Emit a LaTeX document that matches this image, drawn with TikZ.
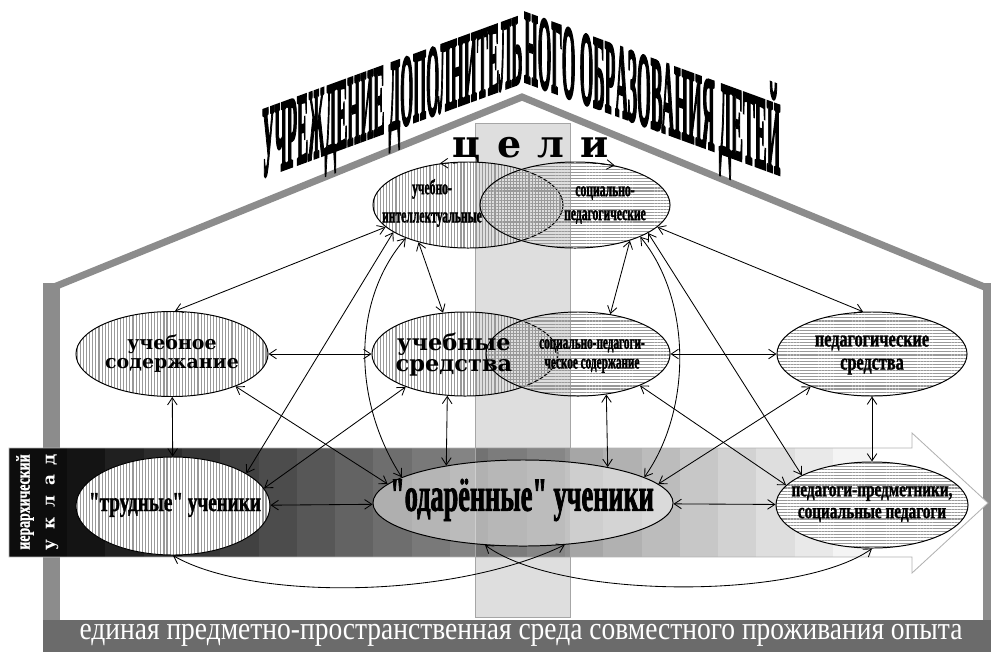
\documentclass[tikz,border=0pt]{standalone}
\usepackage{fontspec}
\setmainfont{Liberation Serif}
\newfontfamily\titlefont[FakeBold=4]{Liberation Serif Bold}
\newfontfamily\condfont[FakeStretch=0.55, FakeBold=1.5]{Liberation Serif Bold}
\newfontfamily\semicondfont[FakeStretch=0.7, FakeBold=1.2]{Liberation Serif Bold}
\newfontfamily\bandfont[FakeStretch=0.85]{Liberation Serif}
\newfontfamily\widefont{DejaVu Serif}
\usetikzlibrary{calc,positioning,arrows.meta,shapes.geometric,patterns.meta}

\definecolor{housegray}{gray}{0.55}
\definecolor{floorgray}{gray}{0.42}
\definecolor{stripegray}{gray}{0.6}

\tikzset{
    ellipsebox/.style={draw, ellipse, line width=0.7pt, inner sep=0},
    vstripes/.style={pattern={Lines[angle=90,distance=2.2pt,line width=0.8pt]}, pattern color=stripegray},
    hstripes/.style={pattern={Lines[angle=0,distance=2.2pt,line width=0.8pt]}, pattern color=stripegray},
    link/.style={<->, >={Straight Barb[length=1.8mm,width=2.4mm]}, line width=0.6pt},
    goal link/.style={->, >={Straight Barb[length=1.8mm,width=2.4mm]}, line width=0.6pt, dashed}
}

\begin{document}
\begin{tikzpicture}[x=0.025cm, y=-0.025cm, align=center, inner sep=0]
    \useasboundingbox (0,0) rectangle (991,652);

    % house
    \fill[housegray] (43,283) rectangle (60,622);
    \fill[housegray] (983,283) rectangle (991,622);
    \draw[housegray, line width=5pt] (51.5,288) -- (522,97) -- (987,288);
    \fill[floorgray] (43,620) rectangle (991,652);
    \node[text=white, font=\bandfont\fontsize{23}{23}\selectfont] (floor label) at (521,635) {единая предметно-пространственная среда совместного проживания опыта};

    % title
    \begin{scope}[shift={(262,177)}, yslant=0.365]
        \node[anchor=south west, transform shape] (title left) at (0,0) {\resizebox{6.5cm}{1.65cm}{\titlefont\raisebox{0pt}[0.66em][0pt]{УЧРЕЖДЕНИЕ ДОПОЛНИТЕЛЬ}}};
    \end{scope}
    \begin{scope}[shift={(524,81)}, yslant=-0.365]
        \node[anchor=south west, transform shape] (title mid) at (0,0) {\resizebox{2.275cm}{1.7cm}{\titlefont\raisebox{0pt}[0.66em][0pt]{НОГО ОБР}}};
    \end{scope}
    \begin{scope}[shift={(615,114.2)}, yslant=-0.365]
        \node[anchor=south west, transform shape] (title right) at (0,0) {\resizebox{4.125cm}{1.7cm}{\titlefont\raisebox{0pt}[0.66em][0pt]{АЗОВАНИЯ ДЕТЕЙ}}};
    \end{scope}

    % band with arrow head
    \fill[white] (9,448) -- (912,448) -- (912,433) -- (988,503) -- (912,573) -- (912,557) -- (9,557) -- cycle;
    \foreach \i in {0,...,21}{
        \pgfmathsetmacro{\tone}{92-92*\i/21}
        \fill[black!\tone] (67+\i*38.3,448) rectangle ++(39,109);
    }
    \fill[black!95] (9,448) rectangle (67,557);
    \draw[gray!60, line width=0.6pt] (9,448) -- (912,448) -- (912,433) -- (988,503) -- (912,573) -- (912,557) -- (9,557) -- cycle;
    \node[rotate=90, text=white, font=\semicondfont\fontsize{14}{14}\selectfont] (hier) at (25,502) {иерархический};
    \node[rotate=90, text=white, font=\widefont\bfseries\fontsize{12}{12}\selectfont] (uklad) at (52,502) {\makebox[2.4cm][s]{у\hfill к\hfill л\hfill а\hfill д}};

    % strip
    \draw[gray!70, fill=black, fill opacity=0.13] (475,123) rectangle (570,617);

    % ellipses
    \node[ellipsebox, vstripes, minimum width=4.75cm, minimum height=2.15cm] (intel) at (468,205) {};
    \node[ellipsebox, hstripes, minimum width=4.75cm, minimum height=2.15cm] (socped) at (575,205) {};
    \node[ellipsebox, vstripes, minimum width=4.8cm, minimum height=2.125cm] (content) at (172,354) {};
    \node[ellipsebox, vstripes, minimum width=4.65cm, minimum height=2.1cm] (means) at (465,354) {};
    \node[ellipsebox, hstripes, minimum width=4.6cm, minimum height=2.1cm] (spcontent) at (578,354) {};
    \node[ellipsebox, hstripes, minimum width=4.75cm, minimum height=2.1cm] (pedmeans) at (872,354) {};
    \node[ellipsebox, vstripes, preaction={fill=white}, minimum width=4.85cm, minimum height=2.45cm] (hard) at (173,506) {};
    \node[ellipsebox, fill=white, fill opacity=0.45, minimum width=7.5cm, minimum height=2.15cm] (gifted) at (523,503) {};
    \node[ellipsebox, hstripes, preaction={fill=white}, minimum width=4.8cm, minimum height=2.15cm] (teachers) at (872,505) {};

    % labels
    \node[font=\widefont\bfseries\fontsize{27}{27}\selectfont] (goals) at (531,150) {\makebox[3.9cm][s]{ц\hfill е\hfill л\hfill и}};
    \node[font=\condfont\fontsize{15}{20}\selectfont] (intel label) at (432,203) {учебно-\\интеллектуальные};
    \node[font=\condfont\fontsize{15}{17}\selectfont] (socped label) at (605,205) {социально-\\педагогические};
    \node[font=\widefont\bfseries\fontsize{13.5}{13.5}\selectfont] (content label) at (172,354) {учебное\\содержание};
    \node[font=\widefont\bfseries\fontsize{16}{15}\selectfont] (means label) at (454,355) {учебные\\средства};
    \node[font=\condfont\fontsize{14.5}{14}\selectfont] (spcontent label) at (592,356) {социально-педагоги-\\ческое содержание};
    \node[font=\semicondfont\fontsize{16.5}{16.5}\selectfont] (pedmeans label) at (872,355) {педагогические\\средства};
    \node[font=\semicondfont\fontsize{19.5}{19.5}\selectfont] (hard label) at (175,505) {"трудные" ученики};
    \node[font=\condfont\fontsize{34}{34}\selectfont] (gifted label) at (522,500) {"одарённые" ученики};
    \node[font=\semicondfont\fontsize{15.5}{15.5}\selectfont] (teachers label) at (872,504) {педагоги-предметники,\\социальные педагоги};

    % connectors
    \draw[goal link] (goals.190) -- (intel.124);
    \draw[goal link] (goals.-12) -- (socped.45);

    \draw[link] (intel.195) -- (content.86);
    \draw[link] (intel.200) -- (hard.24);
    \draw[link] (intel.208) .. controls (352,300) and (352,400) .. (gifted.168);
    \draw[link] (intel.217) -- (means.118);
    \draw[link] (socped.-15) -- (pedmeans.102);
    \draw[link] (socped.-33) -- (spcontent.51);
    \draw[link] (socped.-26) .. controls (692,300) and (692,410) .. (gifted.12);
    \draw[link] (socped.-21) -- (teachers.157);

    \draw[link] (content) -- (means);
    \draw[link] (content) -- (hard);
    \draw[link] (content.-27) -- (gifted.172);
    \draw[link] (means.209) -- (hard.11);
    \draw[link] (means.247) -- (gifted.154);
    \draw[link] (spcontent.-55) -- (gifted.23);
    \draw[link] (spcontent) -- (pedmeans);
    \draw[link] (spcontent.-27) -- (teachers.167);
    \draw[link] (pedmeans.208) -- (gifted.8);
    \draw[link] (pedmeans) -- (teachers);

    \draw[link] (hard) -- (gifted);
    \draw[link] (gifted) -- (teachers);
    \draw[link] (hard.south) .. controls (250,600) and (450,600) .. (gifted.-45);
    \draw[link] (gifted.228) .. controls (560,600) and (800,600) .. (teachers.south);

\end{tikzpicture}
\end{document}
